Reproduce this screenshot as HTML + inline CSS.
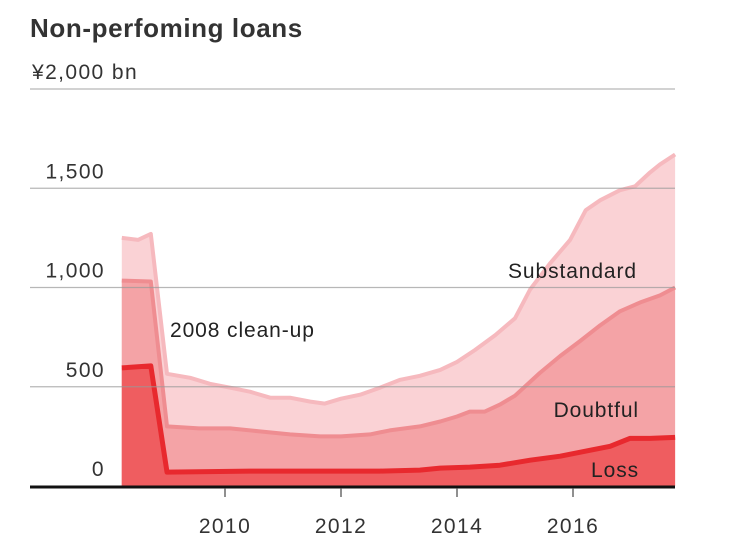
<!DOCTYPE html>
<html><head><meta charset="utf-8"><style>
html,body{margin:0;padding:0;background:#fff;}
svg{display:block;font-family:"Liberation Sans",sans-serif;}
</style></head><body>
<svg width="743" height="548" viewBox="0 0 743 548">
<text x="30" y="37" font-size="26" font-weight="bold" fill="#333" letter-spacing="0.6">Non-perfoming loans</text>
<g id="areas"></g>
<g id="grid"></g>
<g id="labels"></g>
</svg>
<script>
const yTicks=[0,500,1000,1500,2000];
const yTickLabels=["0","500","1,000","1,500","¥2,000 bn"];
const xTicks=[2010,2012,2014,2016];
const totT=[2008.22,2008.5,2008.72,2009.0,2009.4,2009.74,2010.09,2010.43,2010.78,2011.12,2011.47,2011.72,2012,2012.33,2012.67,2013.02,2013.36,2013.71,2014,2014.31,2014.66,2015.0,2015.26,2015.6,2015.95,2016.22,2016.47,2016.81,2017.07,2017.33,2017.5,2017.76];
const totV=[1250,1240,1270,565,545,515,495,475,445,445,425,415,440,460,495,535,555,585,625,685,760,845,990,1120,1240,1390,1440,1490,1510,1580,1620,1670];
const dbtT=[2008.22,2008.72,2009.0,2009.55,2010.09,2010.6,2011.12,2011.64,2012,2012.5,2012.84,2013.36,2013.71,2014,2014.22,2014.48,2014.74,2015.0,2015.43,2015.78,2016.12,2016.47,2016.81,2017.16,2017.5,2017.76];
const dbtV=[1035,1030,300,290,290,275,260,250,250,260,280,300,325,350,375,375,410,455,570,655,730,810,880,925,960,1000];
const lossT=[2008.22,2008.72,2009.0,2010.43,2011.64,2012.67,2013.36,2013.71,2014.22,2014.74,2015.26,2015.78,2016.29,2016.64,2016.98,2017.33,2017.76];
const lossV=[595,605,70,75,75,75,80,90,95,105,130,150,180,200,240,240,245];
const x=t=>225+(t-2010)*58;
const y=v=>486-v*0.1985;
const NS="http://www.w3.org/2000/svg";
function mk(tag,at,parent){const e=document.createElementNS(NS,tag);for(const k in at)e.setAttribute(k,at[k]);parent.appendChild(e);return e;}
function pts(T,V){return T.map((t,i)=>x(t).toFixed(1)+","+y(V[i]).toFixed(1));}
const areas=document.getElementById('areas');
function series(T,V,fill,stroke,w,name){
  const p=pts(T,V);
  const a=mk('polygon',{points:x(T[0])+","+y(0)+" "+p.join(" ")+" "+x(T[T.length-1])+","+y(0),fill:fill},areas);
  
  
  const l=mk('polyline',{points:p.join(" "),fill:"none",stroke:stroke,"stroke-width":w,"stroke-linejoin":"round"},areas);
  
  
}
series(totT,totV,"#fad2d5","#f6b9be",4,"substandard");
series(dbtT,dbtV,"#f4a3a6","#ef8d91",4,"doubtful");
series(lossT,lossV,"#ef5d60","#e8292e",5,"loss");
const grid=document.getElementById('grid');
yTicks.forEach((v,i)=>{
  if(v>0){const g=mk('line',{x1:30,x2:675,y1:y(v),y2:y(v),stroke:"#999","stroke-width":1.3,"stroke-opacity":0.7},grid);
  
  }
  const t=mk('text',{x:v===2000?32:105,y:y(v)-10,"font-size":21,"letter-spacing":1.4,fill:"#333","text-anchor":v===2000?"start":"end"},grid);
  t.textContent=yTickLabels[i];
  
  
});
const ax=mk('line',{x1:30,x2:675,y1:487,y2:487,stroke:"#111","stroke-width":3},grid);


xTicks.forEach(yr=>{
  const tk=mk('line',{x1:x(yr),x2:x(yr),y1:488,y2:497,stroke:"#555","stroke-width":1.3},grid);
  
  
  const t=mk('text',{x:x(yr),y:533,"font-size":21,"letter-spacing":1.4,fill:"#333","text-anchor":"middle"},grid);
  t.textContent=yr;
  
  
});
const labels=document.getElementById('labels');
[["2008 clean-up",170,337,"start","annotation-clean-up"],["Substandard",637,278,"end","label-substandard"],["Doubtful",639,417,"end","label-doubtful"],["Loss",639,477,"end","label-loss"]].forEach(d=>{
  const t=mk('text',{x:d[1],y:d[2],"font-size":21,"letter-spacing":0.9,fill:"#222","text-anchor":d[3]},labels);
  t.textContent=d[0];
  
  
});
</script>
</body></html>
